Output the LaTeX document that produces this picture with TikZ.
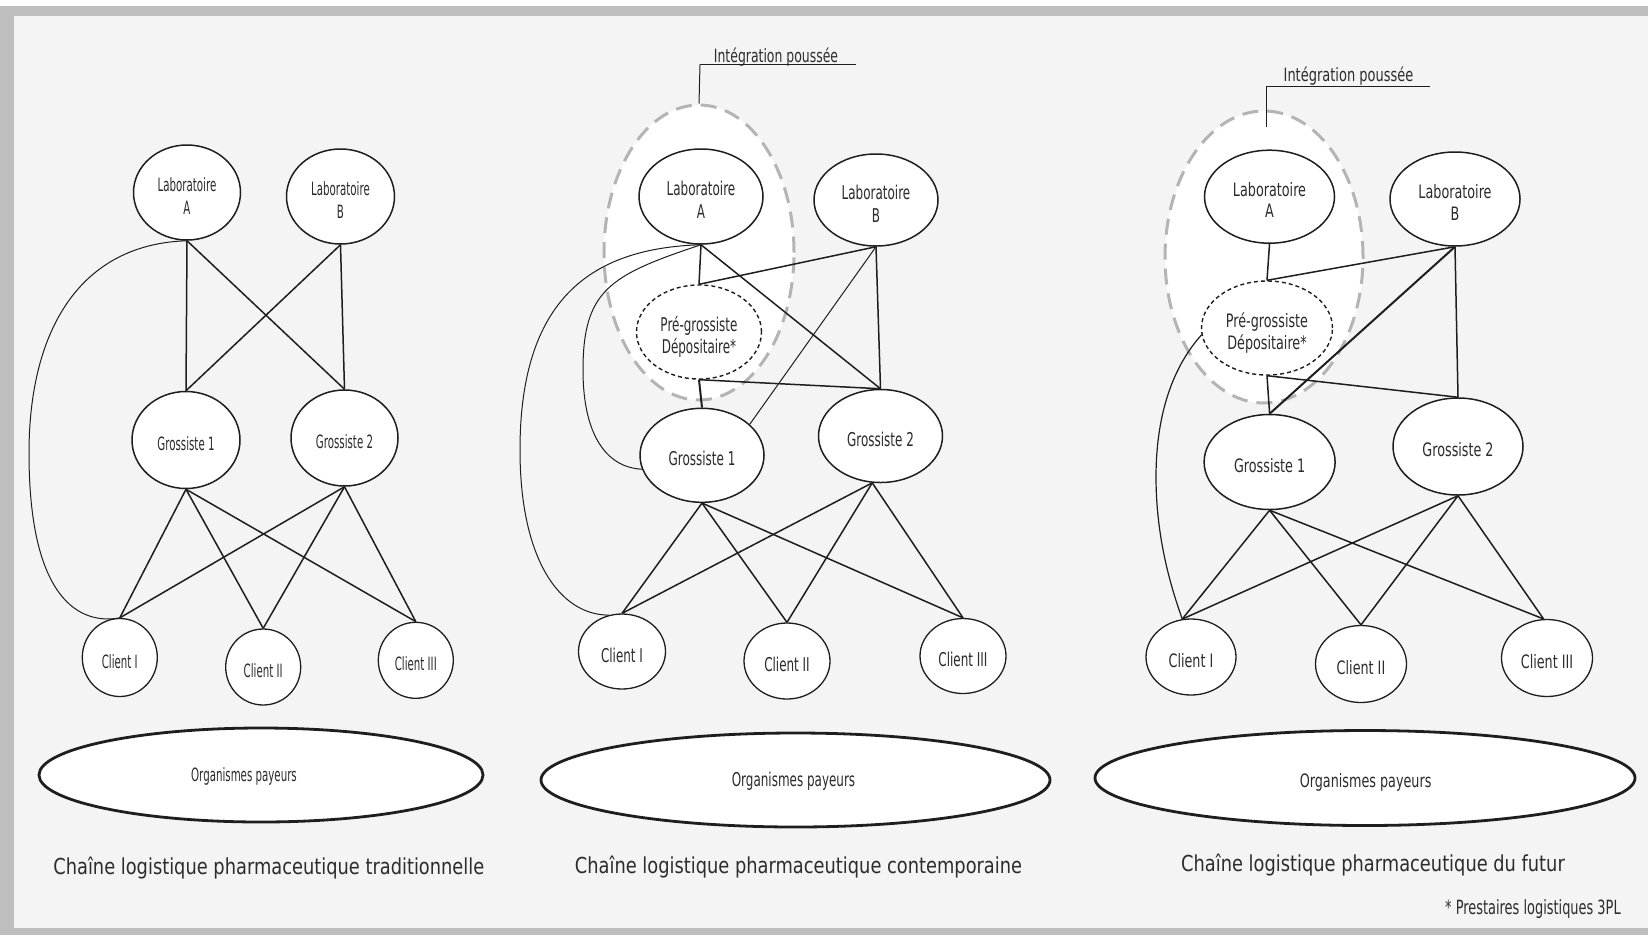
\documentclass[tikz,border=0pt]{standalone}
\usepackage{fontspec}
\usetikzlibrary{shapes.geometric}

% Label faces: a condensed humanist sans at several widths
\newfontfamily\faceA[FakeStretch=0.56]{DejaVu Sans}
\newfontfamily\faceB[FakeStretch=0.63]{DejaVu Sans}
\newfontfamily\faceC[FakeStretch=0.69]{DejaVu Sans}
\newfontfamily\faceT[FakeStretch=0.81]{DejaVu Sans}
\newfontfamily\faceN[FakeStretch=0.66]{DejaVu Sans}
\newfontfamily\faceIb[FakeStretch=0.68]{DejaVu Sans}
\newfontfamily\faceIc[FakeStretch=0.71]{DejaVu Sans}

% node text set a little below the centre of its ellipse
\newcommand\lowtext[1]{\raisebox{-6pt}[\height][\depth]{\begin{tabular}{@{}c@{}}#1\end{tabular}}}

\definecolor{pagebg}{HTML}{F4F4F4}
\definecolor{framegray}{HTML}{BEBEBE}
\definecolor{ink}{HTML}{1E1E1E}
\definecolor{txt}{HTML}{2C2C2C}
\definecolor{grpgray}{HTML}{B4B4B4}

\tikzset{
  ell/.style={ellipse, draw=ink, fill=white, line width=1.5pt, inner sep=0pt, text=txt},
  lab1/.style={ell, font=\faceA\fontsize{18.3}{23.3}\selectfont},
  lab2/.style={ell, font=\faceB\fontsize{19}{23}\selectfont},
  lab3/.style={ell, font=\faceC\fontsize{18.5}{21.5}\selectfont},
  depot/.style={dash pattern=on 4pt off 3pt, line width=1.4pt},
  group/.style={ellipse, draw=grpgray, fill=white, line width=3pt, dash pattern=on 16pt off 9pt, inner sep=0pt},
  payeur/.style={ellipse, draw=ink, fill=white, line width=2.8pt, inner sep=0pt},
  link/.style={draw=ink, line width=1.5pt},
  boldlink/.style={draw=ink, line width=2pt},
  thinlink/.style={draw=ink, line width=1pt},
  leader/.style={draw=ink, line width=1pt},
  title/.style={text=txt, inner sep=0pt, font=\faceT\fontsize{22}{26}\selectfont},
  plain1/.style={text=txt, inner sep=0pt, font=\faceA\fontsize{18.3}{22}\selectfont},
  plain2/.style={text=txt, inner sep=0pt, font=\faceB\fontsize{19}{22}\selectfont},
  plain3/.style={text=txt, inner sep=0pt, font=\faceC\fontsize{18.5}{22}\selectfont},
}

\begin{document}
\begin{tikzpicture}[x=1pt, y=-1pt]
  \useasboundingbox (0,0) rectangle (1648,935);
  % page and frame
  \fill[white] (0,0) rectangle (1648,935);
  \fill[framegray] (0,6) rectangle (1648,935);
  \fill[pagebg] (14,16) rectangle (1648,927.5);

  % ---------------- Panel 1 : traditionnelle ----------------
  \node[lab1, minimum width=107pt, minimum height=95pt] (LA1) at (187,192.5) {\lowtext{Laboratoire\\A}};
  \node[lab1, minimum width=108pt, minimum height=95pt] (LB1) at (340.5,196.5) {\lowtext{Laboratoire\\B}};
  \node[lab1, minimum width=108pt, minimum height=97pt] (G11) at (186,440) {\lowtext{Grossiste 1}};
  \node[lab1, minimum width=107pt, minimum height=96pt] (G21) at (344.5,438) {\lowtext{Grossiste 2}};
  \node[lab1, line width=1.3pt, minimum width=75pt, minimum height=78pt] (C11) at (119.8,657.5) {\lowtext{Client I}};
  \node[lab1, line width=1.3pt, minimum width=75pt, minimum height=76pt] (C21) at (263.2,667) {\lowtext{Client II}};
  \node[lab1, line width=1.3pt, minimum width=75pt, minimum height=76pt] (C31) at (415.8,660.3) {\lowtext{Client III}};
  \node[payeur, minimum width=444pt, minimum height=94pt] (O1) at (261,775) {};
  \node[plain1, anchor=base] (O1t) at (244,781.7) {Organismes payeurs};

  \draw[link] (LA1.south) -- (G11.north);
  \draw[link] (LA1.south) -- (G21.north);
  \draw[link] (LB1.south) -- (G21.north);
  \draw[link] (LB1.south) -- (G11.north);
  \foreach \c in {C11,C21,C31} {
    \draw[link] (G11.south) -- (\c.north);
    \draw[link] (G21.south) -- (\c.north);
  }
  \draw[thinlink] (LA1.south) .. controls (80,244) and (29,330) .. (29,453)
                              .. controls (29,600) and (80,625) .. (C11.north);

  \node[title, anchor=base] (T1) at (268.8,874) {Chaîne logistique pharmaceutique traditionnelle};

  % ---------------- Panel 2 : contemporaine ----------------
  \node[group, minimum width=190pt, minimum height=295pt] (GR2) at (699,252.5) {};
  \node[lab2, minimum width=124pt, minimum height=95pt] (LA2) at (701,196.5) {\lowtext{Laboratoire\\A}};
  \node[lab2, minimum width=124pt, minimum height=92pt] (LB2) at (876,200) {\lowtext{Laboratoire\\B}};
  \node[lab2, depot, font=\faceB\fontsize{19}{22.3}\selectfont, minimum width=125pt, minimum height=94pt] (PG2) at (699,332) {\lowtext{Pré-grossiste\\Dépositaire*}};
  \node[lab2, minimum width=124pt, minimum height=94pt] (G12) at (702,455.3) {\lowtext{Grossiste 1}};
  \node[lab2, minimum width=124pt, minimum height=93pt] (G22) at (880.5,436) {\lowtext{Grossiste 2}};
  \node[lab2, line width=1.3pt, minimum width=87pt, minimum height=75pt] (C12) at (622,651.5) {\lowtext{Client I}};
  \node[lab2, line width=1.3pt, minimum width=86pt, minimum height=76pt] (C22) at (787,661) {\lowtext{Client II}};
  \node[lab2, line width=1.3pt, minimum width=86pt, minimum height=75pt] (C32) at (963,656) {\lowtext{Client III}};
  \node[payeur, minimum width=509pt, minimum height=94pt] (O2) at (795.5,780) {};
  \node[plain2, anchor=base] (O2t) at (793.5,786) {Organismes payeurs};

  \node[plain2, font=\faceIb\fontsize{18.3}{22}\selectfont, anchor=base] (I2) at (776,62.7) {Intégration poussée};
  \coordinate (I2a) at (700,64.4);
  \coordinate (I2b) at (856,64.4);
  \draw[leader] (I2a) -- (I2b);
  \draw[leader] (I2a) -- (GR2.north);

  \draw[link] (LA2.south) -- (PG2.north);
  \draw[link] (LA2.south) -- (G22.north);
  \draw[link] (LB2.south) -- (PG2.north);
  \draw[thinlink] (LB2.south) -- (G12.33);
  \draw[link] (LB2.south) -- (G22.north);
  \draw[boldlink] (PG2.south) -- (G12.north);
  \draw[link] (PG2.south) -- (G22.north);
  \foreach \c in {C12,C22,C32} {
    \draw[link] (G12.south) -- (\c.north);
    \draw[link] (G22.260) -- (\c.north);
  }
  \draw[thinlink] (LA2.south) .. controls (590,248) and (520,300) .. (520,450)
                              .. controls (520,560) and (560,615) .. (C12.110);
  \draw[thinlink] (LA2.south) .. controls (610,275) and (583,290) .. (583,370)
                              .. controls (583,440) and (610,468) .. (G12.193);

  \node[title, anchor=base] (T2) at (798.5,873.6) {Chaîne logistique pharmaceutique contemporaine};

  % ---------------- Panel 3 : du futur ----------------
  \node[group, minimum width=198pt, minimum height=292pt] (GR3) at (1264,257) {};
  \node[lab3, minimum width=130pt, minimum height=93pt] (LA3) at (1269.5,196.7) {\lowtext{Laboratoire\\A}};
  \node[lab3, minimum width=130pt, minimum height=94pt] (LB3) at (1455,199) {\lowtext{Laboratoire\\B}};
  \node[lab3, depot, minimum width=131pt, minimum height=94pt] (PG3) at (1267,328) {\lowtext{Pré-grossiste\\Dépositaire*}};
  \node[lab3, minimum width=131pt, minimum height=95pt] (G13) at (1269.6,462) {\lowtext{Grossiste 1}};
  \node[lab3, minimum width=130pt, minimum height=97pt] (G23) at (1458,446.5) {\lowtext{Grossiste 2}};
  \node[lab3, line width=1.3pt, minimum width=90pt, minimum height=76pt] (C13) at (1191,657) {\lowtext{Client I}};
  \node[lab3, line width=1.3pt, minimum width=91pt, minimum height=77pt] (C23) at (1361,664) {\lowtext{Client II}};
  \node[lab3, line width=1.3pt, minimum width=91pt, minimum height=77pt] (C33) at (1547,658) {\lowtext{Client III}};
  \node[payeur, minimum width=540pt, minimum height=95pt] (O3) at (1365,778) {};
  \node[plain3, anchor=base] (O3t) at (1365.6,787) {Organismes payeurs};

  \node[plain3, font=\faceIc\fontsize{18.3}{22}\selectfont, anchor=base] (I3) at (1348.5,81.7) {Intégration poussée};
  \coordinate (I3a) at (1266.7,86);
  \coordinate (I3b) at (1430,86);
  \coordinate (I3c) at (1266.7,127.3);
  \draw[leader] (I3a) -- (I3b);
  \draw[leader] (I3a) -- (I3c);

  \draw[link] (LA3.south) -- (PG3.north);
  \draw[link] (LB3.south) -- (PG3.north);
  \draw[boldlink] (LB3.south) -- (G13.north);
  \draw[link] (LB3.south) -- (G23.north);
  \draw[link] (PG3.south) -- (G13.north);
  \draw[link] (PG3.south) -- (G23.north);
  \foreach \c/\a in {C13/103,C23/90,C33/95} {
    \draw[link] (G13.south) -- (\c.\a);
    \draw[link] (G23.south) -- (\c.\a);
  }
  \draw[link, line width=1.2pt] (PG3.186) .. controls (1170,370) and (1156,420) .. (1156,477)
                              .. controls (1156,540) and (1172,590) .. (C13.103);

  \node[title, anchor=base] (T3) at (1373,871.8) {Chaîne logistique pharmaceutique du futur};

  \node[text=txt, inner sep=0pt, font=\faceN\fontsize{19.6}{22}\selectfont, anchor=base west] (FN) at (1445,914.3) {* Prestaires logistiques 3PL};
\end{tikzpicture}
\end{document}
